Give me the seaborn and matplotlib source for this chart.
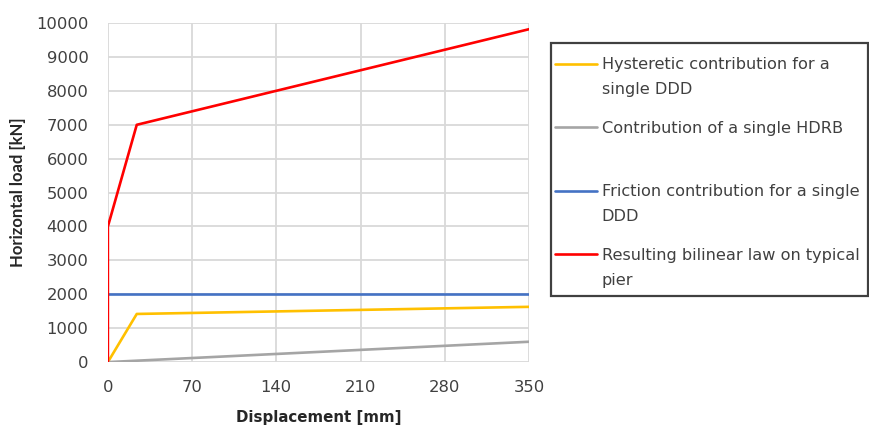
import numpy as np
import pandas as pd
import matplotlib
matplotlib.use("Agg")
import matplotlib.pyplot as plt
import seaborn as sns
from matplotlib.legend_handler import HandlerLine2D
from matplotlib.patches import Rectangle

# ---------------------------------------------------------------
# Data
# ---------------------------------------------------------------
hyst_x = [0, 24, 350]
hyst_y = [0, 1420, 1630]

hdrb_x = [0, 350]
hdrb_y = [0, 600]

fric_x = [0, 350]
fric_y = [2000, 2000]

res_x = [0, 0, 24, 350]
res_y = [0, 4000, 7000, 9820]

labels = [
    "Hysteretic contribution for a\nsingle DDD",
    "Contribution of a single HDRB\n",
    "Friction contribution for a single\nDDD",
    "Resulting bilinear law on typical\npier",
]
colors = ["#FFC000", "#A5A5A5", "#4472C4", "#FF0000"]

x_ticks = [0, 70, 140, 210, 280, 350]
y_ticks = list(range(0, 10001, 1000))

# ---------------------------------------------------------------
sns.set_style("white")
plt.rcParams["font.family"] = ["DejaVu Sans"]

fig = plt.figure(figsize=(8.7, 4.28), dpi=100)
ax = fig.add_axes([0.124, 0.154, 0.484, 0.792])

series = [(hyst_x, hyst_y), (hdrb_x, hdrb_y), (fric_x, fric_y), (res_x, res_y)]
for (xs, ys), lab, col in zip(series, labels, colors):
    sns.lineplot(x=xs, y=ys, ax=ax, color=col, linewidth=1.9,
                 estimator=None, sort=False, label=lab)

ax.set_xlim(0, 350)
ax.set_ylim(0, 10000)
ax.set_xticks(x_ticks)
ax.set_yticks(y_ticks)
ax.grid(True, color="#d9d9d9", linewidth=1.3)
for s in ax.spines.values():
    s.set_visible(False)
ax.tick_params(axis="both", labelsize=11.8, colors="#404040", length=5,
               width=1.2, direction="out")
ax.tick_params(axis="x", color="#d9d9d9", pad=8)
ax.tick_params(axis="y", color="#d9d9d9", pad=9)
ax.set_xlabel("Displacement [mm]", fontsize=10.8, fontweight="bold",
              color="#262626", labelpad=11)
ax.set_ylabel("Horizontal load [kN]", fontsize=12, fontweight="bold",
              color="#262626", labelpad=7, family=["Lato", "DejaVu Sans"])


# legend handles aligned to the first line of each label
class TopLine(HandlerLine2D):
    def __init__(self, shift, **kw):
        super().__init__(**kw)
        self.shift = shift

    def create_artists(self, legend, orig_handle, xdescent, ydescent,
                       width, height, fontsize, trans):
        arts = super().create_artists(legend, orig_handle, xdescent, ydescent,
                                      width, height, fontsize, trans)
        for a in arts:
            a.set_ydata(np.asarray(a.get_ydata(), dtype=float) + self.shift)
        return arts


handles, labs = ax.get_legend_handles_labels()
ax.get_legend().remove()
leg = fig.legend(handles, labs, loc="upper left",
                 bbox_to_anchor=(555 / 870, 1 - 57 / 428),
                 fontsize=11.6, frameon=False, borderpad=0,
                 labelspacing=1.45, handlelength=2.6, handletextpad=0.3,
                 borderaxespad=0,
                 handler_map={h: TopLine(10) for h in handles})
for t in leg.get_texts():
    t.set_linespacing(1.85)
    t.set_color("#404040")

# legend box as in the reference
fig.patches.append(Rectangle((551 / 870, 1 - 296 / 428), 317 / 870, 253 / 428,
                             transform=fig.transFigure, fill=False,
                             edgecolor="#404040", linewidth=1.6))

plt.savefig("out.png", dpi=100)
